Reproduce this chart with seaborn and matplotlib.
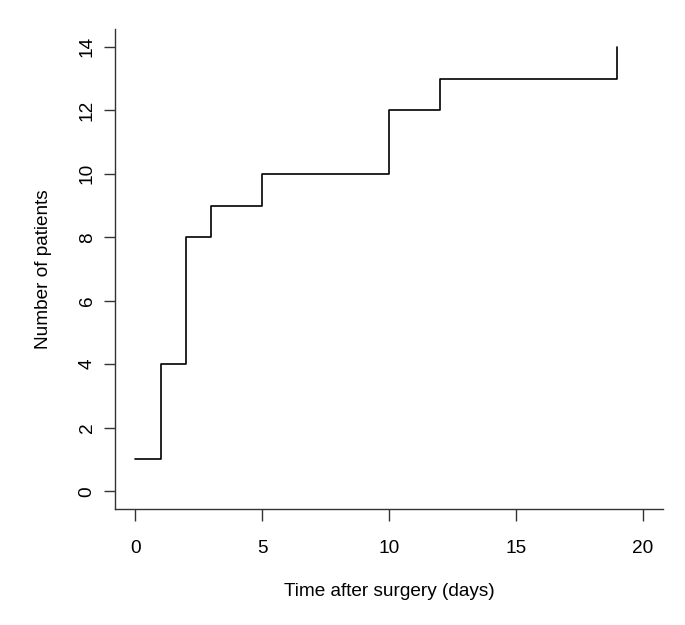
import pandas as pd
import matplotlib
matplotlib.use("Agg")
import matplotlib.pyplot as plt
import seaborn as sns

# Step data: cumulative number of patients by day
days = [0, 1, 2, 3, 5, 10, 12, 19]
patients = [1, 4, 8, 9, 10, 12, 13, 14]

df = pd.DataFrame({"days": days, "patients": patients})

sns.set_style("ticks")
plt.rcParams["font.family"] = ["Liberation Sans", "DejaVu Sans"]
plt.rcParams["text.color"] = "black"
plt.rcParams["axes.labelcolor"] = "black"
plt.rcParams["xtick.color"] = "black"
plt.rcParams["ytick.color"] = "black"

fig = plt.figure(figsize=(6.85, 6.25), dpi=100)
ax = fig.add_axes([0.168, 0.1856, 0.8, 0.768])

sns.lineplot(data=df, x="days", y="patients", drawstyle="steps-post",
             color="black", linewidth=1.2, ax=ax)

ax.set_xlim(-0.8, 20.8)
ax.set_ylim(-0.56, 14.56)
ax.set_xticks([0, 5, 10, 15, 20])
ax.set_yticks([0, 2, 4, 6, 8, 10, 12, 14])
ax.tick_params(axis="x", labelsize=13.7, length=8.5, width=1, color="#333333", pad=14)
ax.tick_params(axis="y", labelsize=13.7, length=8, width=1, color="#333333", pad=6)
for lab in ax.get_yticklabels():
    lab.set_rotation(90)
    lab.set_va("center")

for s in ["top", "right"]:
    ax.spines[s].set_visible(False)
for s in ["left", "bottom"]:
    ax.spines[s].set_linewidth(1)
    ax.spines[s].set_color("#333333")

ax.set_xlabel("Time after surgery (days)", fontsize=13.7)
ax.set_ylabel("Number of patients", fontsize=13.7)
ax.xaxis.set_label_coords(0.5, -0.155)
ax.yaxis.set_label_coords(-0.116, 0.5)

fig.savefig("out.png", dpi=100)
